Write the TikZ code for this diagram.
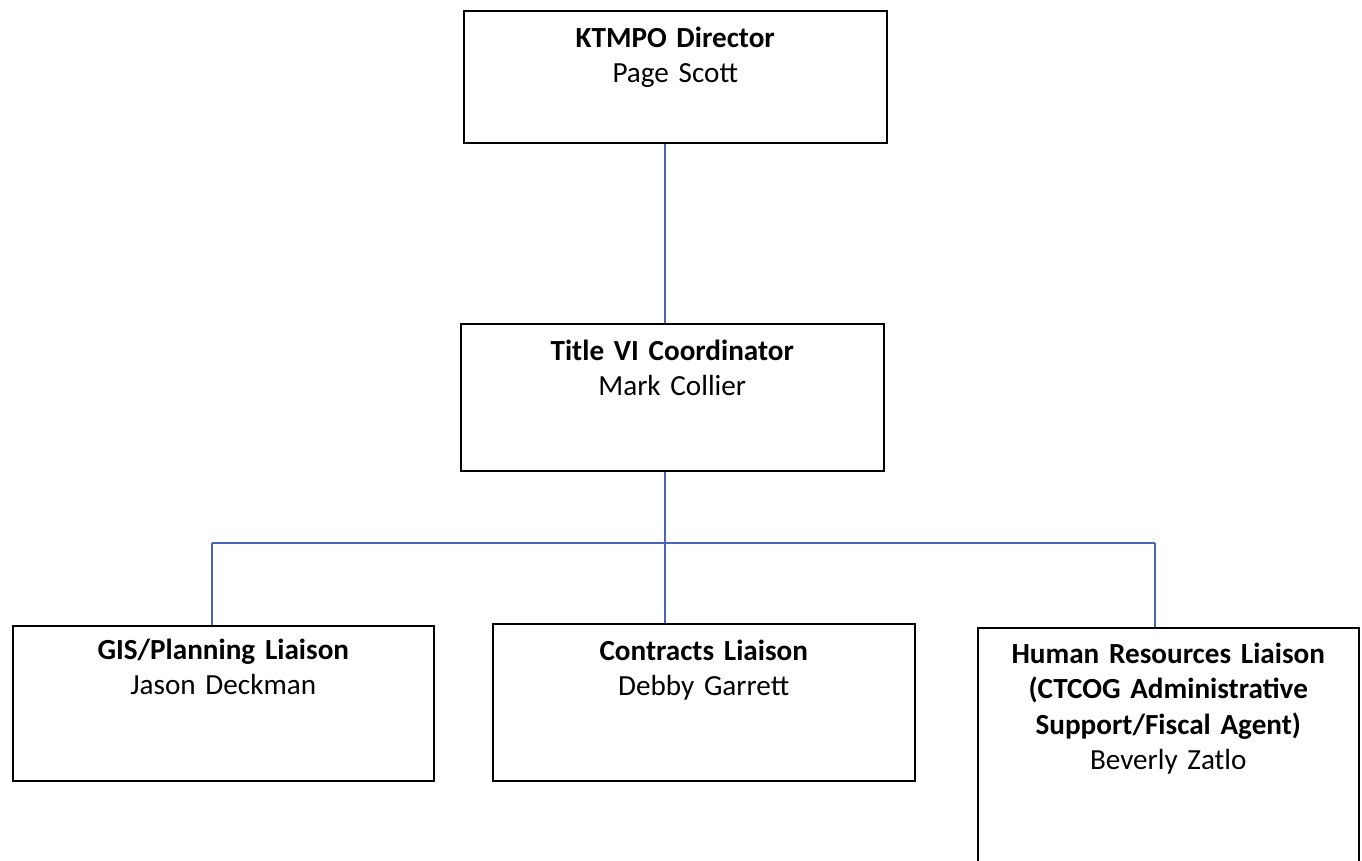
\documentclass[tikz,border=0pt]{standalone}
\usepackage{fontspec}
\setmainfont{Carlito}
\definecolor{linkblue}{RGB}{70,100,185}

\begin{document}
\begin{tikzpicture}[x=0.02cm, y=-0.02cm,
    orgbox/.style={draw=black, line width=0.9pt, anchor=north west, align=center,
      inner xsep=0pt, inner ysep=0pt,
      font=\fontsize{16.6}{20}\selectfont},
    link/.style={draw=linkblue, line width=0.8pt}]
  % Page frame
  \useasboundingbox (0,0) rectangle (1362,860);

  % Boxes
  \node[orgbox, text width=8.46cm, text height=0.74cm, text depth=1.9cm] (dir) at (463,10)
    {\textbf{KTMPO Director}\\Page Scott};
  \node[orgbox, text width=8.46cm, text height=0.74cm, text depth=2.2cm] (title) at (460,323)
    {\textbf{Title VI Coordinator}\\Mark Collier};
  \node[orgbox, text width=8.42cm, text height=0.68cm, text depth=2.42cm] (gis) at (12,625)
    {\textbf{GIS/Planning Liaison}\\Jason Deckman};
  \node[orgbox, text width=8.44cm, text height=0.74cm, text depth=2.4cm] (con) at (492,623)
    {\textbf{Contracts Liaison}\\Debby Garrett};
  \node[orgbox, text width=7.62cm, text height=0.72cm, text depth=4.4cm] (hr) at (977,627)
    {\textbf{Human Resources Liaison}\\\textbf{(CTCOG Administrative}\\\textbf{Support/Fiscal Agent)}\\Beverly Zatlo};

  % Connectors
  \coordinate (spine) at (665,543);
  \coordinate (gisup) at (212,543);
  \coordinate (hrup) at (1155,543);
  \draw[link] (dir.south -| spine) -- (title.north -| spine);
  \draw[link] (title.south -| spine) -- (spine);
  \draw[link] (gisup) -- (hrup);
  \draw[link] (gisup) -- (gisup |- gis.north);
  \draw[link] (spine) -- (spine |- con.north);
  \draw[link] (hrup) -- (hrup |- hr.north);
\end{tikzpicture}
\end{document}
